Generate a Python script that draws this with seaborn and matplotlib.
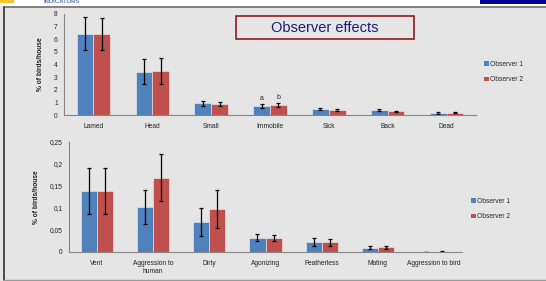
import matplotlib
matplotlib.use("Agg")
import matplotlib.pyplot as plt
from matplotlib.patches import Rectangle
from matplotlib.lines import Line2D
import seaborn as sns
import pandas as pd

# upper panel: % of birds/house per behaviour, two observers
upper_cats = ["Lamed", "Head", "Small", "Immobile", "Sick", "Back", "Dead"]
upper_obs1 = [6.45, 3.42, 0.92, 0.71, 0.47, 0.38, 0.16]
upper_obs2 = [6.40, 3.50, 0.89, 0.78, 0.42, 0.29, 0.18]
upper_err1 = [1.33, 1.00, 0.18, 0.18, 0.10, 0.07, 0.05]
upper_err2 = [1.25, 1.05, 0.17, 0.18, 0.09, 0.06, 0.05]
upper_yticks = [0, 1, 2, 3, 4, 5, 6, 7, 8]
upper_ylabels = ["0", "1", "2", "3", "4", "5", "6", "7", "8"]

# lower panel
lower_cats = ["Vent", "Aggression to\nhuman", "Dirty", "Agonizing",
              "Featherless", "Mating", "Aggression to bird"]
lower_obs1 = [0.138, 0.102, 0.069, 0.032, 0.023, 0.0098, 0.0003]
lower_obs2 = [0.139, 0.169, 0.098, 0.031, 0.022, 0.0106, 0.0010]
lower_err1 = [0.052, 0.038, 0.032, 0.008, 0.009, 0.003, 0.0003]
lower_err2 = [0.052, 0.053, 0.044, 0.007, 0.008, 0.003, 0.0005]
lower_yticks = [0, 0.05, 0.1, 0.15, 0.2, 0.25]
lower_ylabels = ["0", "0,05", "0,1", "0,15", "0,2", "0,25"]

observers = ["Observer 1", "Observer 2"]
colors = ["#4F81BD", "#C0504D"]
letters = ["a", "b"]

sns.set_theme(style="white")
plt.rcParams["font.family"] = ["Liberation Sans", "DejaVu Sans"]

W, H = 546, 281
fig = plt.figure(figsize=(W / 100, H / 100), dpi=100)
fig.patch.set_facecolor("#e5e5e5")


def px(x0, y0, x1, y1):
    # pixel box -> figure fraction [left, bottom, width, height]
    return [x0 / W, 1 - y1 / H, (x1 - x0) / W, (y1 - y0) / H]


def panel(rect, cats, v1, v2, e1, e2, yticks, ylabels, ylab_x, leg_xy, marks=None):
    ax = fig.add_axes(rect)
    ax.set_facecolor("none")
    df = pd.DataFrame({
        "cat": cats * 2,
        "obs": [observers[0]] * len(cats) + [observers[1]] * len(cats),
        "val": v1 + v2,
    })
    sns.barplot(data=df, x="cat", y="val", hue="obs", palette=colors,
                saturation=1, width=0.57, errorbar=None, ax=ax, legend=False,
                edgecolor=(1, 1, 1, 0.55), linewidth=0.6)
    for cont, errs in zip(ax.containers, [e1, e2]):
        xs = [b.get_x() + b.get_width() / 2 for b in cont]
        hs = [b.get_height() for b in cont]
        ax.errorbar(xs, hs, yerr=errs, fmt="none", ecolor="black",
                    elinewidth=0.9, capsize=1.3, capthick=0.9)
    if marks is not None:
        idx, txts = marks
        for cont, errs, t in zip(ax.containers, [e1, e2], txts):
            b = cont[idx]
            ax.text(b.get_x() + b.get_width() / 2,
                    b.get_height() + errs[idx] + 0.12, t,
                    ha="center", va="bottom", fontsize=5, color="#222222")
    ax.set_xlim(-0.5, len(cats) - 0.5)
    ax.set_ylim(yticks[0], yticks[-1])
    ax.set_yticks(yticks)
    ax.set_yticklabels(ylabels, fontsize=4.8, color="#222222")
    ax.set_xticks(range(len(cats)))
    ax.set_xticklabels(cats, fontsize=4.8, color="#222222")
    ax.set_xticks([i - 0.5 for i in range(len(cats) + 1)], minor=True)
    ax.tick_params(axis="x", which="major", length=0, pad=6)
    ax.tick_params(axis="x", which="minor", length=2.5, width=0.6,
                   color="#868686", direction="out")
    ax.tick_params(axis="y", length=2.5, width=0.6, color="#868686",
                   direction="out", pad=2)
    ax.set_xlabel("")
    ax.set_ylabel("% of birds/house", fontsize=4.8, fontweight="bold",
                  color="#222222")
    ax.yaxis.set_label_coords(ylab_x, 0.5)
    sns.despine(ax=ax)
    for s in ["left", "bottom"]:
        ax.spines[s].set_color("#868686")
        ax.spines[s].set_linewidth(0.8)
    handles = [Rectangle((0, 0), 1, 1, facecolor=c, edgecolor="none") for c in colors]
    fig.legend(handles, observers, loc="center left",
               bbox_to_anchor=(leg_xy[0] / W, 1 - leg_xy[1] / H),
               frameon=False, fontsize=4.8, handlelength=0.7,
               handleheight=0.7, handletextpad=0.25, labelspacing=1.3,
               borderpad=0, borderaxespad=0)
    return ax


panel(px(64, 14, 476, 115), upper_cats, upper_obs1, upper_obs2,
      upper_err1, upper_err2, upper_yticks, upper_ylabels, -0.048,
      (484, 72), marks=(3, letters))
panel(px(69, 142, 462, 252), lower_cats, lower_obs1, lower_obs2,
      lower_err1, lower_err2, lower_yticks, lower_ylabels, -0.074,
      (471, 209))

# slide decoration: white top strip, frame lines, title box
fig.patches.append(Rectangle((0, 1 - 6 / H), 1, 6 / H, transform=fig.transFigure,
                             facecolor="white", edgecolor="none", zorder=0))
fig.patches.append(Rectangle((480 / W, 1 - 4 / H), 66 / W, 4 / H,
                             transform=fig.transFigure, facecolor="#000099",
                             edgecolor="none"))
fig.patches.append(Rectangle((0, 1 - 3 / H), 14 / W, 3 / H,
                             transform=fig.transFigure, facecolor="#f2c230",
                             edgecolor="none"))
fig.lines.append(Line2D([4 / W, 1], [1 - 6.5 / H] * 2, transform=fig.transFigure,
                        color="#707070", linewidth=1.2))
fig.lines.append(Line2D([4 / W, 4 / W], [1 - 6.5 / H, 1 / H], transform=fig.transFigure,
                        color="#333333", linewidth=1.2))
fig.lines.append(Line2D([4 / W, 1], [1.2 / H] * 2, transform=fig.transFigure,
                        color="#9a9a9a", linewidth=1.0))
fig.text(62 / W, 1 - 1.5 / H, "INDICATORS", fontsize=4.3, fontweight="bold",
         color="#5a7ab0", ha="center", va="center")

fig.patches.append(Rectangle((236 / W, 1 - 39 / H), 178 / W, 23 / H,
                             transform=fig.transFigure, facecolor="#e5e5e5",
                             edgecolor="#8e1c1c", linewidth=1.2))
fig.text(325 / W, 1 - 27.5 / H, "Observer effects", fontsize=10.5,
         color="#1c1c7a", ha="center", va="center")

fig.savefig("out.png", dpi=100, facecolor=fig.get_facecolor())
